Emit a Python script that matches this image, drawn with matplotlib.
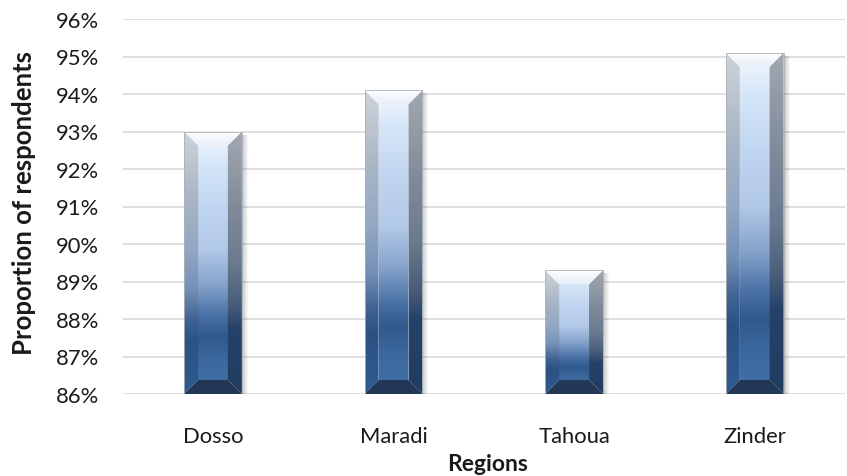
import numpy as np
import matplotlib
matplotlib.use("Agg")
import matplotlib.pyplot as plt
from matplotlib.patches import Polygon, Rectangle
from matplotlib.colors import to_rgb
from matplotlib.ticker import FuncFormatter

regions = ["Dosso", "Maradi", "Tahoua", "Zinder"]
values = [93.0, 94.1, 89.3, 95.1]
y_ticks = [86, 87, 88, 89, 90, 91, 92, 93, 94, 95, 96]

plt.rcParams['font.family'] = ['Lato', 'DejaVu Sans']

W, H = 847, 477
fig = plt.figure(figsize=(W / 100, H / 100), dpi=100)
L, R, B, T = 122.7 / W, 845 / W, (H - 395) / H, (H - 20) / H
ax = fig.add_axes([L, B, R - L, T - B])

ax.set_xlim(-0.5, 3.5)
ax.set_ylim(86, 96)
ax.set_yticks(y_ticks)
ax.yaxis.set_major_formatter(FuncFormatter(lambda v, p: f"{v:.0f}%"))
ax.grid(axis='y', color='#d9d9d9', linewidth=1.2)
ax.set_axisbelow(True)
for s in ax.spines.values():
    s.set_visible(False)
ax.tick_params(axis='both', length=0, labelsize=15.8, colors='#1a1a1a')
ax.tick_params(axis='y', pad=17)
ax.tick_params(axis='x', pad=23)
ax.set_xticks(range(len(regions)))
ax.set_xticklabels(regions)
fig.text(24 / W, 1 - 203 / H, "Proportion of respondents", rotation=90, ha='center',
         va='center', fontsize=18.5, fontweight='bold', color='#1a1a1a')
fig.text(488 / W, 1 - 465 / H, "Regions", ha='center', va='center', fontsize=16.5,
         fontweight='bold', color='#1a1a1a')

bars = ax.bar(range(len(regions)), [v - 86 for v in values], bottom=86, width=0.32,
              color='none', edgecolor='none')

# pixel -> data conversions
px_x = (3.5 - (-0.5)) / ((R - L) * W)
px_y = (96 - 86) / ((T - B) * H)
bev = 14
bx, by = bev * px_x, bev * px_y


def grad(stops, n=256):
    pos = [s[0] for s in stops]
    cols = np.array([to_rgb(s[1]) for s in stops])
    t = np.linspace(0, 1, n)
    arr = np.stack([np.interp(t, pos, cols[:, i]) for i in range(3)], axis=-1)
    return arr[:, None, :]  # top -> bottom


center_g = grad([(0, '#f4f9ff'), (0.12, '#d6e6f8'), (0.3, '#bed4ef'), (0.45, '#b2c9e8'),
                 (0.58, '#86a4cc'), (0.7, '#4a72a6'), (0.78, '#30598c'), (0.88, '#3c6aa0'),
                 (1, '#4070a6')])
left_g = grad([(0, '#cfd3d8'), (0.25, '#a9b6c6'), (0.45, '#93a7c2'), (0.6, '#7590b6'),
               (0.72, '#3f6292'), (0.8, '#2c5285'), (1, '#2f5b8f')])
right_g = grad([(0, '#a2a8b0'), (0.3, '#7f8a99'), (0.5, '#6a7a8f'), (0.65, '#4b5f7b'),
                (0.75, '#27426a'), (1, '#213c60')])
top_g = grad([(0, '#ffffff'), (1, '#e6eef8')])
bot_g = grad([(0, '#2b4468'), (1, '#223755')])

for b in bars:
    x0, y0 = b.get_x(), b.get_y()
    x1, y1 = x0 + b.get_width(), y0 + b.get_height()
    ext = (x0, x1, y0, y1)
    # shadow
    for k in range(1, 7):
        ax.add_patch(Rectangle((x1, y0), k * px_x, (y1 - y0) - 3 * px_y,
                               facecolor='#000000', alpha=0.035, edgecolor='none', zorder=2))
    faces = [
        ([(x0 + bx, y0 + by), (x1 - bx, y0 + by), (x1 - bx, y1 - by), (x0 + bx, y1 - by)], center_g),
        ([(x0, y0), (x0 + bx, y0 + by), (x0 + bx, y1 - by), (x0, y1)], left_g),
        ([(x1, y0), (x1 - bx, y0 + by), (x1 - bx, y1 - by), (x1, y1)], right_g),
        ([(x0, y1), (x1, y1), (x1 - bx, y1 - by), (x0 + bx, y1 - by)], None),
        ([(x0, y0), (x1, y0), (x1 - bx, y0 + by), (x0 + bx, y0 + by)], bot_g),
    ]
    for pts, g in faces:
        poly = Polygon(pts, closed=True, facecolor='none', edgecolor='none', zorder=3)
        ax.add_patch(poly)
        if g is None:
            im = ax.imshow(top_g, extent=(x0, x1, y1 - by, y1), aspect='auto', zorder=3,
                           interpolation='bilinear')
        else:
            im = ax.imshow(g, extent=ext, aspect='auto', zorder=3, interpolation='bilinear')
        im.set_clip_path(poly)
    ax.add_patch(Rectangle((x0, y0), x1 - x0, y1 - y0, facecolor='none',
                           edgecolor='#a9b0b8', linewidth=0.6, zorder=4))

ax.set_xlim(-0.5, 3.5)
ax.set_ylim(86, 96)
fig.savefig("out.png", dpi=100)
